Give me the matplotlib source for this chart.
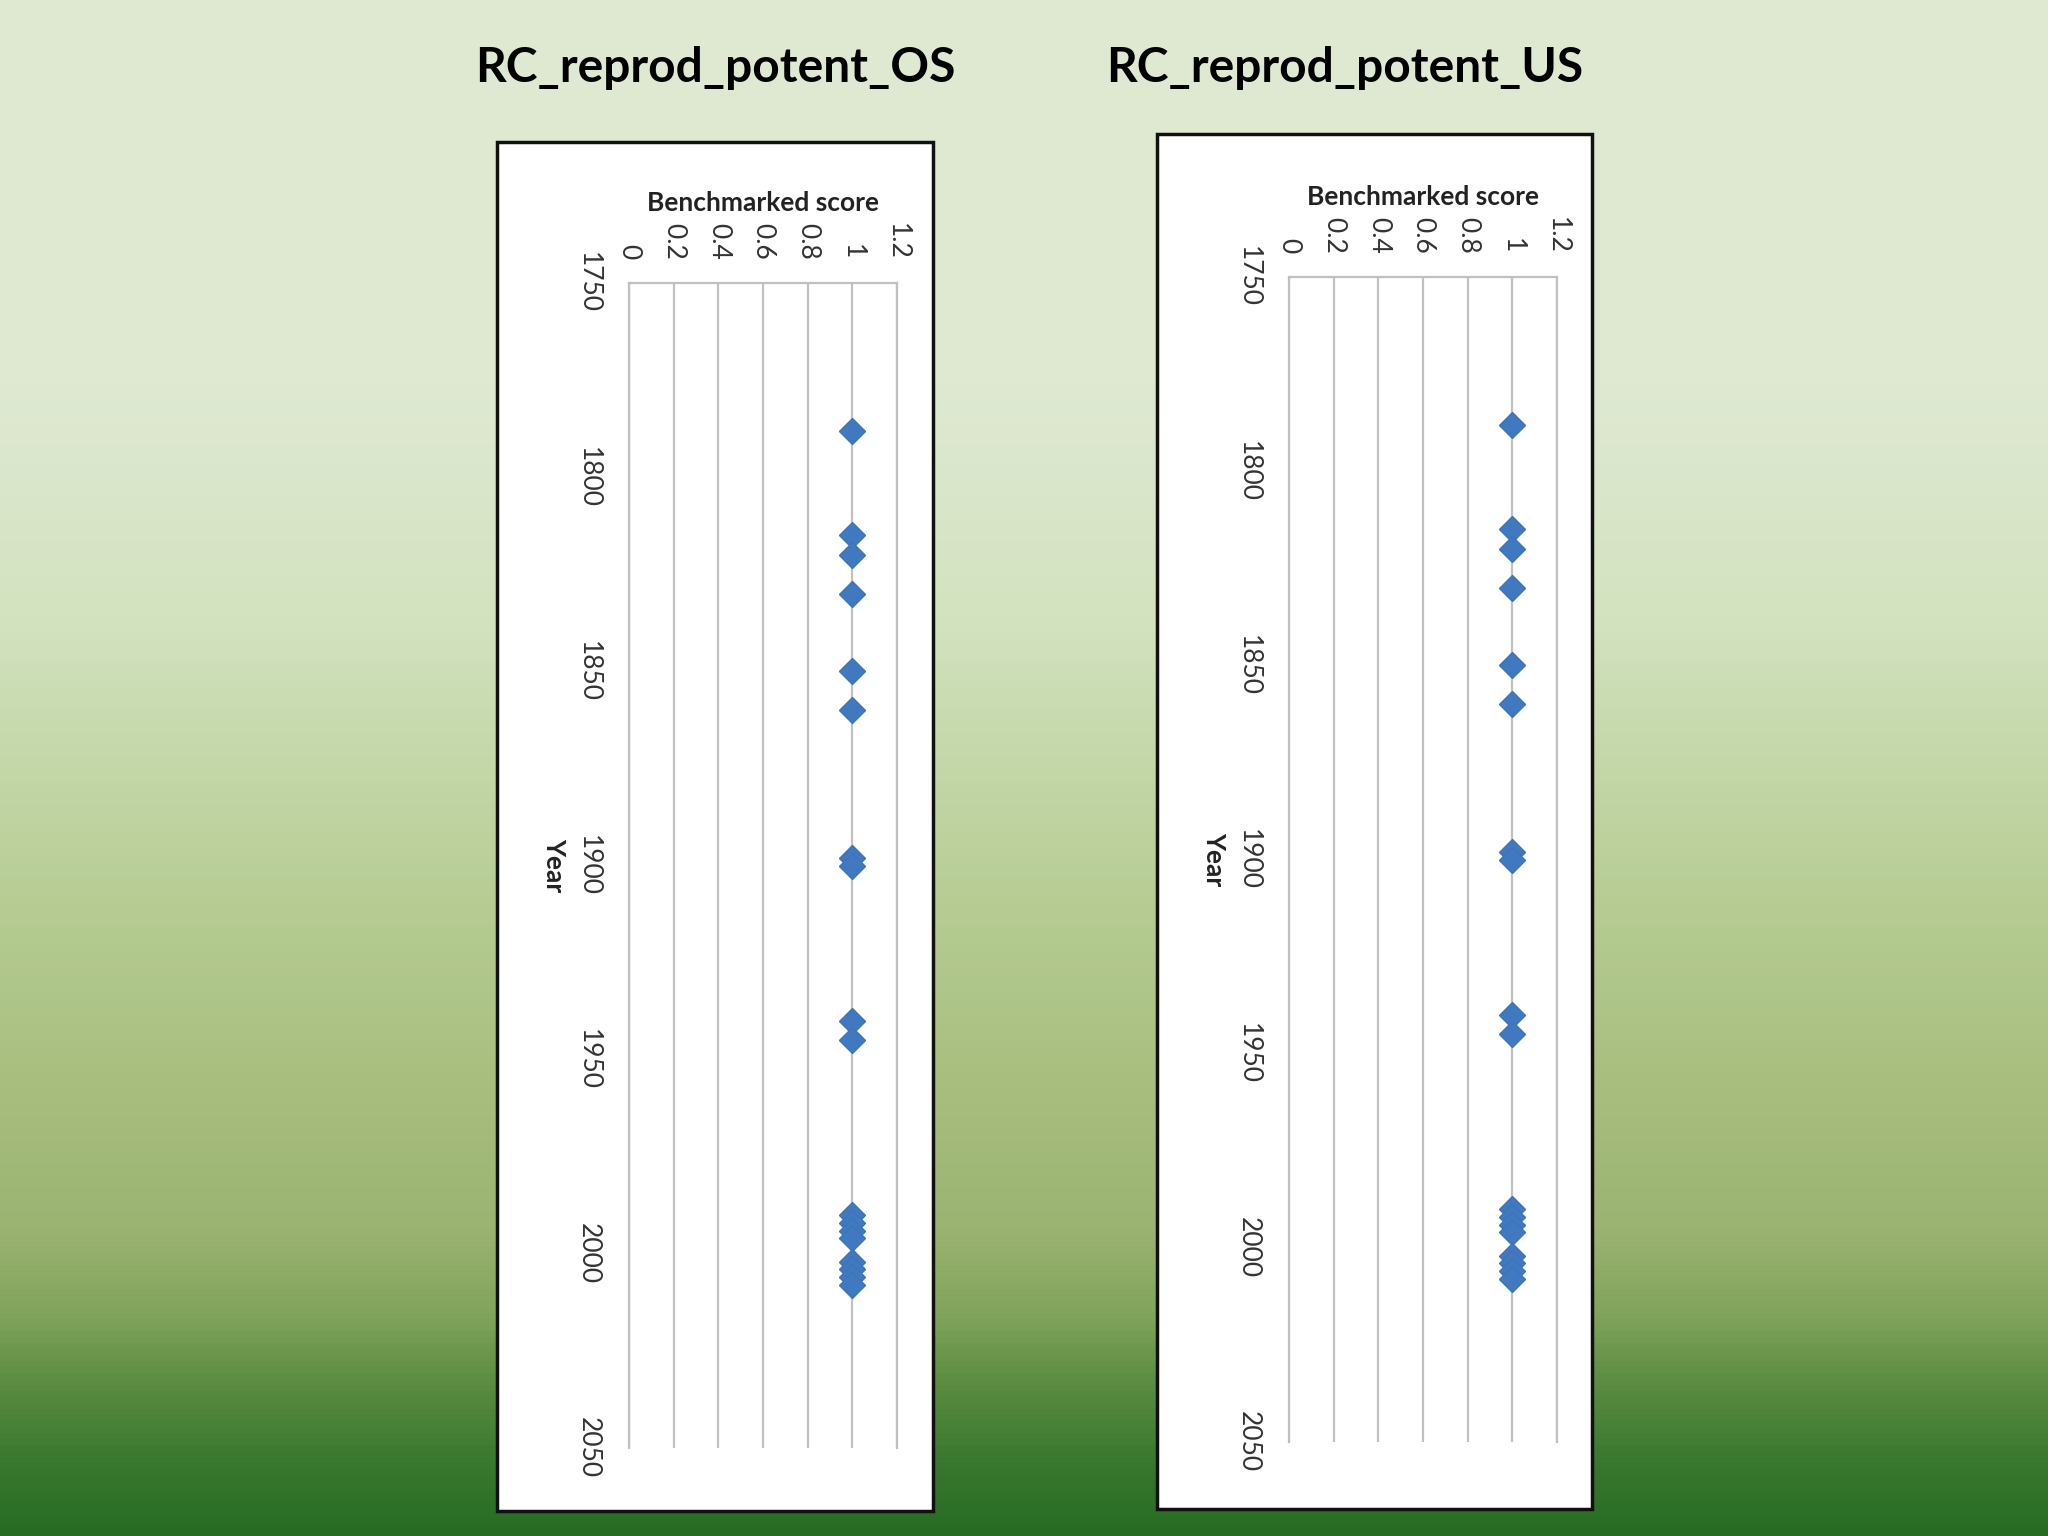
import numpy as np
import matplotlib.pyplot as plt
from matplotlib.colors import LinearSegmentedColormap
from matplotlib.patches import Rectangle

plt.rcParams['font.family'] = ['Lato', 'DejaVu Sans']

titles = ["RC_reprod_potent_OS", "RC_reprod_potent_US"]
years = [1788, 1815, 1820, 1830, 1850, 1860, 1898, 1900, 1940, 1945,
         1990, 1992, 1994, 1996, 2002, 2004, 2006, 2008]
scores_os = [1, 1, 1, 1, 1, 1, 1, 1, 1, 1, 1, 1, 1, 1, 1, 1, 1, 1]
scores_us = [1, 1, 1, 1, 1, 1, 1, 1, 1, 1, 1, 1, 1, 1, 1, 1, 1, 1]
score_ticks = [0, 0.2, 0.4, 0.6, 0.8, 1, 1.2]
score_labels = ["0", "0.2", "0.4", "0.6", "0.8", "1", "1.2"]
year_ticks = [1750, 1800, 1850, 1900, 1950, 2000, 2050]

W, H = 2048, 1536
fig = plt.figure(figsize=(W / 100, H / 100), dpi=100)

# green slide background
bg = fig.add_axes([0, 0, 1, 1], zorder=-10)
cmap = LinearSegmentedColormap.from_list("slide", [
    (0.0, "#dfe9d2"), (0.25, "#dfe9d2"), (0.4, "#d3e3c0"), (0.5, "#c3d7a8"),
    (0.6, "#b5cb91"), (0.7, "#a8bf80"), (0.8, "#9cb472"), (0.86, "#80a35b"),
    (0.9, "#5d8d42"), (0.95, "#3b7a30"), (1.0, "#276b22")])
grad = np.linspace(0, 1, 512).reshape(-1, 1)
bg.imshow(grad, cmap=cmap, aspect="auto", extent=[0, 1, 1, 0])
bg.set_xlim(0, 1)
bg.set_ylim(1, 0)
bg.axis("off")


def px_box(x0, y0, x1, y1):
    return [x0 / W, 1 - y1 / H, (x1 - x0) / W, (y1 - y0) / H]


panels = [
    dict(title=titles[0], scores=scores_os, tx=715, box=(497, 142, 933, 1511),
         ax=(629, 283, 897, 1448)),
    dict(title=titles[1], scores=scores_us, tx=1345, box=(1157, 134, 1592, 1509),
         ax=(1289, 277, 1557, 1442)),
]

for p in panels:
    b = px_box(*p["box"])
    fig.patches.append(Rectangle((b[0], b[1]), b[2], b[3], transform=fig.transFigure,
                                 facecolor="white", edgecolor="#111111", lw=2.5,
                                 zorder=1))
    fig.text(p["tx"] / W, 1 - 68 / H, p["title"], ha="center", va="center",
             fontsize=34.5, fontweight="bold", color="black")

    ax = fig.add_axes(px_box(*p["ax"]), zorder=2)
    ax.set_facecolor("white")
    ax.plot(p["scores"], years, ls="none", marker="D", ms=13.5,
            color="#4179c0", mec="#3d74b8", zorder=3)
    ax.set_xlim(0, 1.2)
    ax.set_ylim(2050, 1750)
    ax.set_xticks(score_ticks)
    ax.set_xticklabels(score_labels)
    ax.set_yticks(year_ticks)
    ax.xaxis.tick_top()
    ax.xaxis.set_label_position("top")
    ax.grid(axis="x", color="#c0c0c0", lw=1.6)
    ax.set_axisbelow(True)
    for side in ["left", "right", "top"]:
        ax.spines[side].set_color("#c0c0c0")
        ax.spines[side].set_linewidth(1.6)
    ax.spines["bottom"].set_visible(False)
    ax.tick_params(axis="x", length=0, pad=17, labelsize=19, labelcolor="#333333",
                   labelrotation=-90)
    ax.tick_params(axis="y", length=0, pad=20, labelsize=19, labelcolor="#333333",
                   labelrotation=-90)
    for t in ax.get_yticklabels():
        t.set_va("center")
    ax.set_xlabel("Benchmarked score", fontsize=19, fontweight="bold", labelpad=8,
                  color="#222222")
    ax.set_ylabel("Year", fontsize=19, fontweight="bold", labelpad=16,
                  rotation=-90, va="center", color="#222222")

fig.savefig("out.png", dpi=100)
